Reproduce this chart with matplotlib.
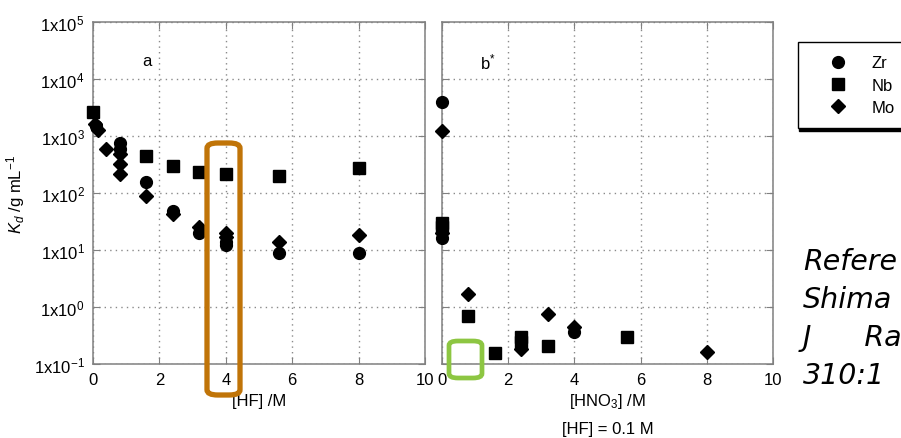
import numpy as np
import matplotlib.pyplot as plt
from matplotlib.patches import FancyBboxPatch
from matplotlib.ticker import FixedLocator, FuncFormatter

plt.rcParams['font.family'] = ['Liberation Sans', 'DejaVu Sans']
plt.rcParams['mathtext.fontset'] = 'custom'
plt.rcParams['mathtext.rm'] = 'Liberation Sans'
plt.rcParams['mathtext.it'] = 'Liberation Sans:italic'

# panel a: Kd vs [HF]
zr_hf_x = [0.1, 0.8, 0.8, 1.6, 2.4, 3.2, 4.0, 4.0, 5.6, 8.0]
zr_hf = [1500, 750, 580, 155, 48, 20, 14, 12, 9, 9]
nb_hf_x = [0, 1.6, 2.4, 3.2, 4.0, 5.6, 8.0]
nb_hf = [2600, 450, 295, 235, 215, 200, 270]
mo_hf_x = [0.05, 0.15, 0.4, 0.8, 0.8, 0.8, 1.6, 2.4, 3.2, 4.0, 4.0, 5.6, 8.0]
mo_hf = [1600, 1300, 590, 480, 320, 215, 89, 42, 25, 20, 17, 14, 18]

# panel b: Kd vs [HNO3], [HF] = 0.1 M
zr_hno3_x = [0, 0, 4.0]
zr_hno3 = [4000, 16, 0.37]
nb_hno3_x = [0, 0, 0.8, 1.6, 2.4, 2.4, 3.2, 5.6]
nb_hno3 = [30, 25, 0.69, 0.155, 0.30, 0.24, 0.21, 0.30]
mo_hno3_x = [0, 0, 0.8, 2.4, 3.2, 4.0, 8.0]
mo_hno3 = [1230, 20, 1.7, 0.18, 0.76, 0.45, 0.16]

x_ticks = [0, 2, 4, 6, 8, 10]
y_ticks = [1e-1, 1e0, 1e1, 1e2, 1e3, 1e4, 1e5]

fig = plt.figure(figsize=(9.01, 4.39), dpi=100)
ax1 = fig.add_axes([93 / 901, 1 - 365 / 439, 332 / 901, 342 / 439])
ax2 = fig.add_axes([442 / 901, 1 - 365 / 439, 331 / 901, 342 / 439])

styles = {'Zr': dict(marker='o', ms=8.5), 'Nb': dict(marker='s', ms=9), 'Mo': dict(marker='D', ms=7.5)}


def kd_label(v, pos):
    return '1x10$^{%d}$' % int(round(np.log10(v)))


for ax, data in [(ax1, [('Zr', zr_hf_x, zr_hf), ('Nb', nb_hf_x, nb_hf), ('Mo', mo_hf_x, mo_hf)]),
                 (ax2, [('Zr', zr_hno3_x, zr_hno3), ('Nb', nb_hno3_x, nb_hno3), ('Mo', mo_hno3_x, mo_hno3)])]:
    for name, xs, ys in data:
        ax.plot(xs, ys, ls='none', color='black', mec='black', label=name, clip_on=False, zorder=3,
                **styles[name])
    ax.set_yscale('log')
    ax.set_xlim(0, 10)
    ax.set_ylim(1e-1, 1e5)
    ax.xaxis.set_major_locator(FixedLocator(x_ticks))
    ax.yaxis.set_major_locator(FixedLocator(y_ticks))
    ax.yaxis.set_minor_locator(FixedLocator([]))
    ax.grid(True, color='#8a8a8a', ls=(0, (1, 3)), lw=1)
    ax.tick_params(direction='in', length=5, color='#808080', top=True, right=True,
                   labelsize=12, pad=6)
    for sp in ax.spines.values():
        sp.set_color('#808080')
        sp.set_linewidth(1.1)

ax1.yaxis.set_major_formatter(FuncFormatter(kd_label))
ax2.tick_params(labelleft=False)

ax1.set_ylabel('$K_{d}$ /g mL$^{-1}$', fontsize=12)
ax1.yaxis.set_label_coords(-0.2, 0.5)
ax1.set_xlabel('[HF] /M', fontsize=12, labelpad=4)
ax2.set_xlabel('[HNO$_{3}$] /M', fontsize=12, labelpad=3)
fig.text(608 / 901, 1 - 430 / 439, '[HF] = 0.1 M', fontsize=12, ha='center', va='center')

ax1.text(0.163, 0.886, 'a', transform=ax1.transAxes, fontsize=12, ha='center', va='center')
ax2.text(0.139, 0.886, 'b$^{*}$', transform=ax2.transAxes, fontsize=12, ha='center', va='center')

leg = ax2.legend(loc='upper left', bbox_to_anchor=(798 / 901, 1 - 43 / 439),
                 bbox_transform=fig.transFigure, fontsize=12, frameon=True, fancybox=False,
                 shadow={'color': 'black', 'alpha': 1, 'ox': 1, 'oy': -2},
                 handletextpad=0.4, labelspacing=0.44, borderpad=0.8, handlelength=3.2,
                 borderaxespad=0)
leg.get_frame().set_edgecolor('black')
leg.get_frame().set_linewidth(1)

ref_lines = ['Refere', 'Shima', 'J      Ra', '310:1']
for i, line in enumerate(ref_lines):
    fig.text(803 / 901, 1 - (270 + i * 38) / 439, line, fontsize=20.5, style='italic',
             family='DejaVu Sans', ha='left', va='baseline')

# highlight boxes
fig.add_artist(FancyBboxPatch((207 / 901, 1 - 396 / 439), 33 / 901, 252 / 439,
                              boxstyle='round,pad=0,rounding_size=0.012', transform=fig.transFigure,
                              fill=False, edgecolor='#c07408', linewidth=3.8, zorder=10))
fig.add_artist(FancyBboxPatch((449 / 901, 1 - 379 / 439), 33 / 901, 37 / 439,
                              boxstyle='round,pad=0,rounding_size=0.01', transform=fig.transFigure,
                              fill=False, edgecolor='#8dc642', linewidth=3.4, zorder=10))

fig.savefig('out.png', dpi=100)
